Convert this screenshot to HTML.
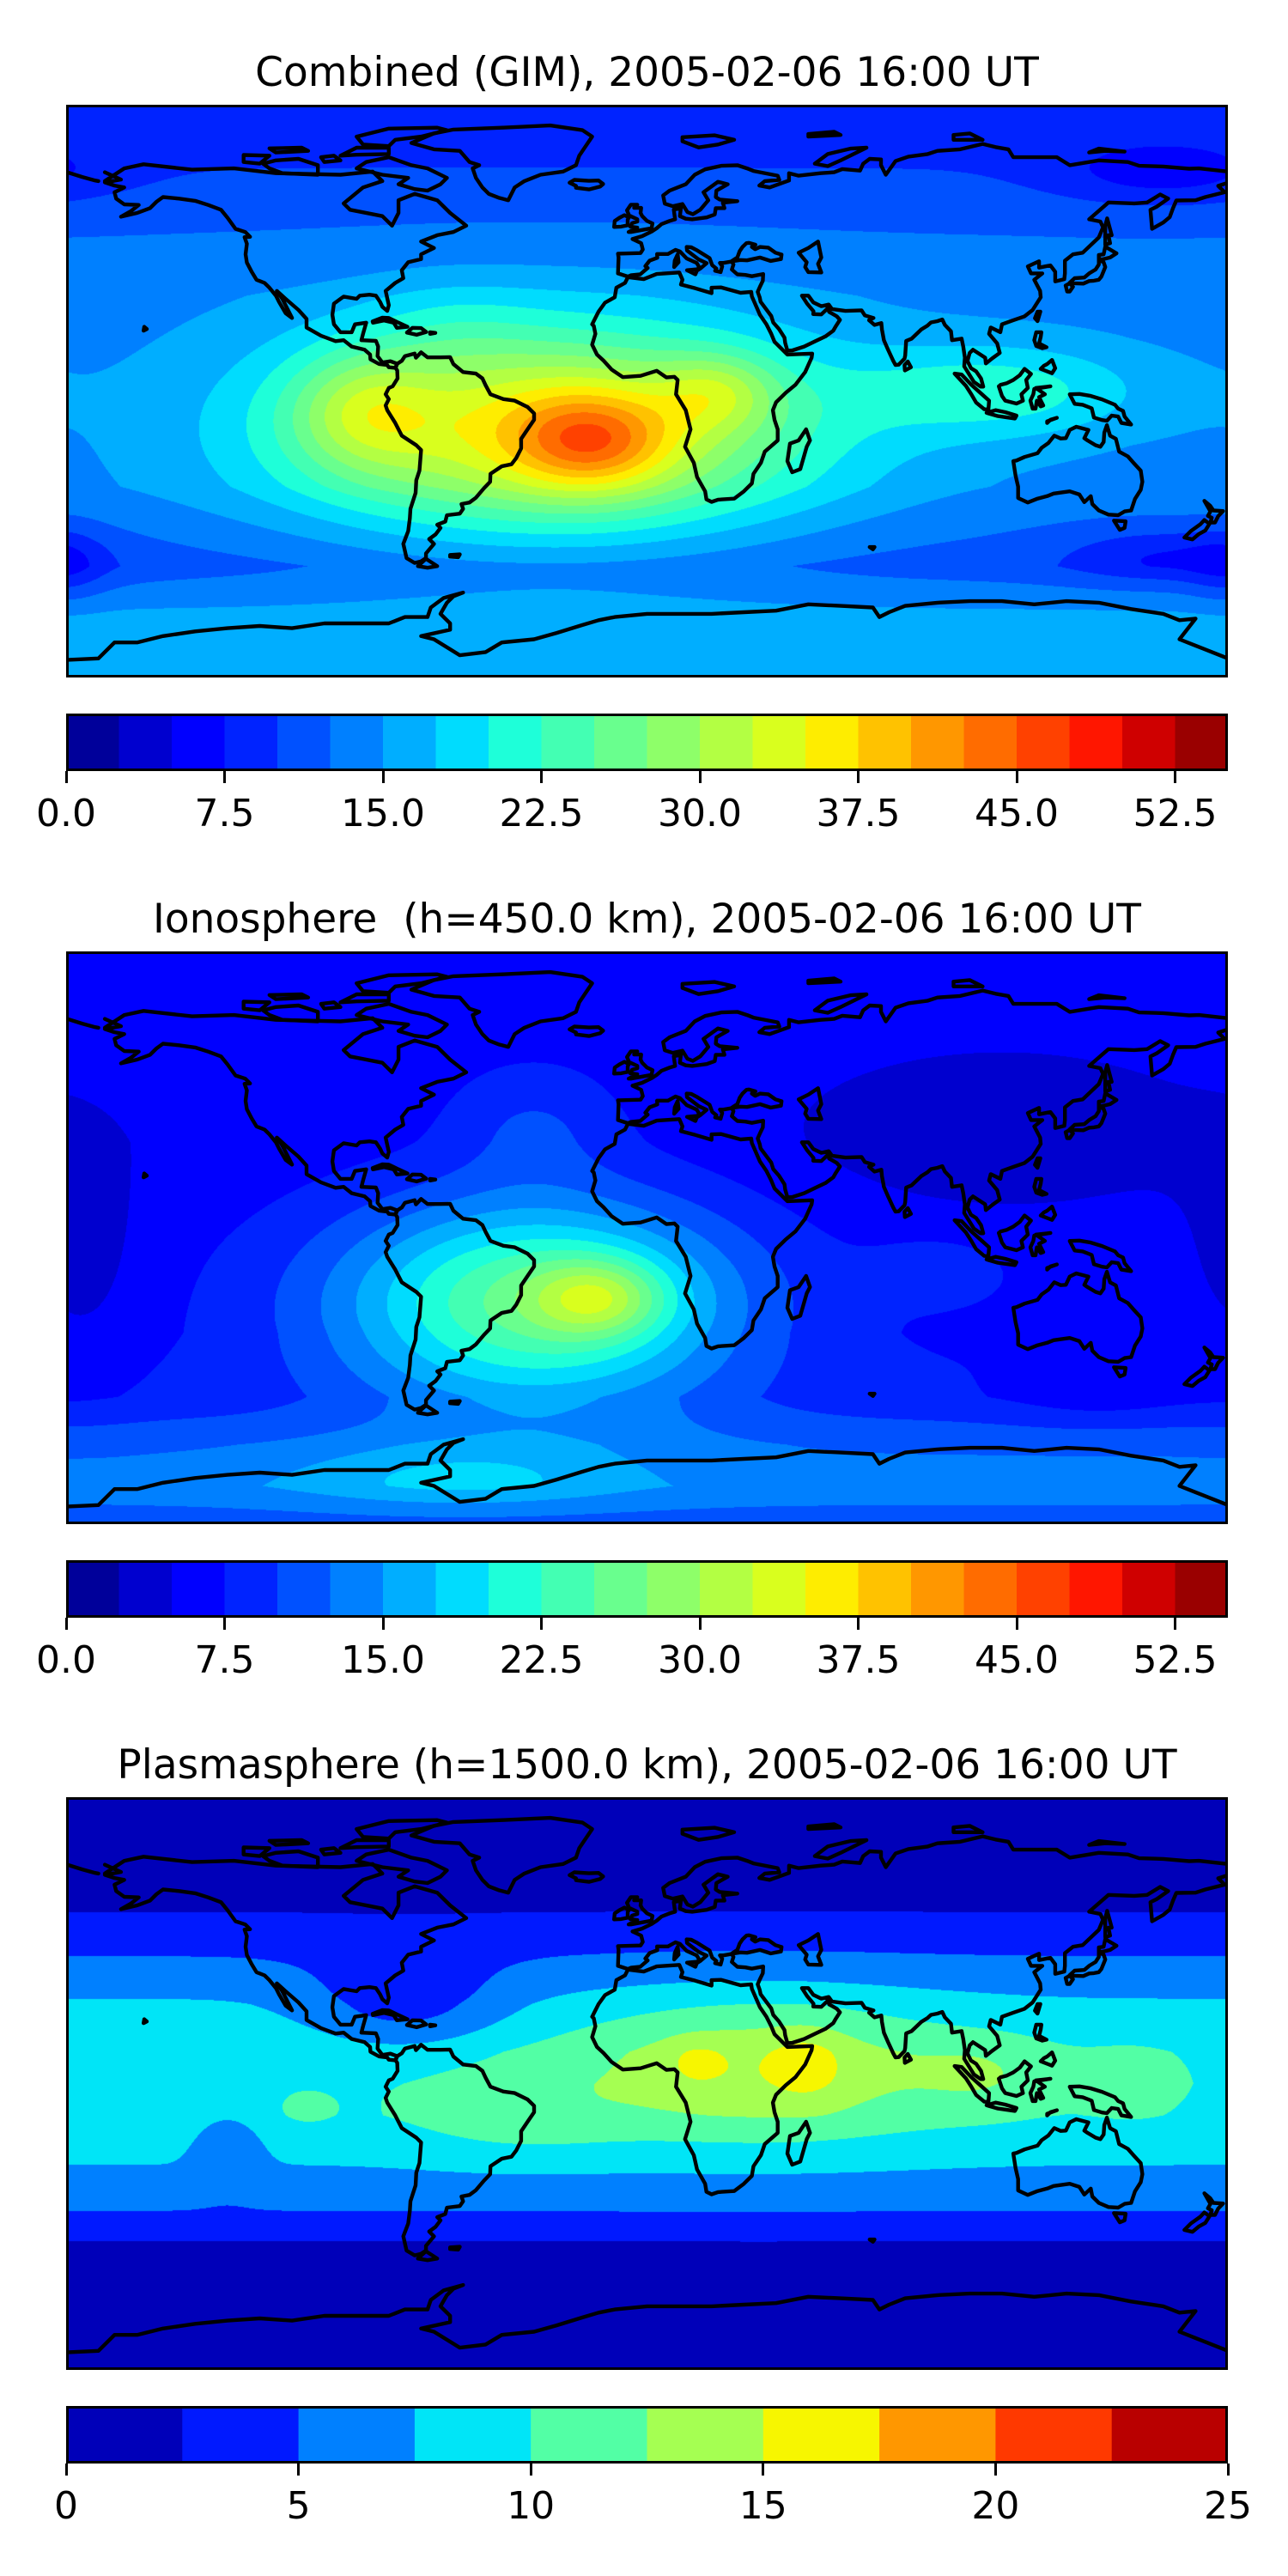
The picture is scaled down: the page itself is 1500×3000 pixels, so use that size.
<!DOCTYPE html>
<html><head><meta charset="utf-8">
<style>
html,body{margin:0;padding:0;background:#fff;}
body{width:1500px;height:3000px;position:relative;overflow:hidden;font-family:"DejaVu Sans","Liberation Sans",sans-serif;}
.title{position:absolute;left:0;width:1507px;text-align:center;font-size:47px;color:#000;line-height:1;white-space:nowrap;}
.map{position:absolute;left:77px;width:1353px;height:667px;}
.map canvas,.map svg{position:absolute;left:0;top:0;}
.cb{position:absolute;left:77px;width:1353px;height:67px;}
.tick{position:absolute;width:3px;height:14px;background:#000;}
.tl{position:absolute;font-size:44px;line-height:1;transform:translateX(-50%);white-space:nowrap;}
</style></head>
<body>
<div class="title" style="top:61px">Combined (GIM), 2005-02-06 16:00 UT</div>
<div class="map" id="m0" style="top:122px"></div>
<div class="cb" id="c0" style="top:831px"></div>

<div class="title" style="top:1047px">Ionosphere&nbsp; (h=450.0 km), 2005-02-06 16:00 UT</div>
<div class="map" id="m1" style="top:1108px"></div>
<div class="cb" id="c1" style="top:1817px"></div>

<div class="title" style="top:2032px">Plasmasphere (h=1500.0 km), 2005-02-06 16:00 UT</div>
<div class="map" id="m2" style="top:2093px"></div>
<div class="cb" id="c2" style="top:2802px"></div>

<script>
// ---- data: level settings ----
const levelMax0 = 55, levelStep0 = 2.5;
const levelMax2 = 25, levelStep2 = 2.5;
const ticks0 = [0, 7.5, 15, 22.5, 30, 37.5, 45, 52.5];
const tickLabels0 = ["0.0","7.5","15.0","22.5","30.0","37.5","45.0","52.5"];
const ticks2 = [0, 5, 10, 15, 20, 25];
const tickLabels2 = ["0","5","10","15","20","25"];

// ---- data: combined field (TEC units) ----
const combBaseLat = [90, 70, 55, 30, 0, -30, -55, -72, -90];
const combBaseVal = [8, 10, 12, 14, 14, 14, 11, 16, 15];
const combBlobLon = [-30, -17, 22, -88, 110, 160, 160, -180, -60];
const combBlobLat = [-12, -16, 0, -6, 0, 68, -52, -55, 20];
const combBlobAmp = [22, 11, 7, 8, 7, -4, -4, -3, 2];
const combBlobSLon = [80, 24, 18, 22, 45, 35, 30, 12, 25];
const combBlobSLat = [32, 15, 12, 18, 15, 10, 9, 12, 15];

// ---- data: ionosphere field ----
const ionoBaseLat = [90, 60, 30, 0, -30, -50, -65, -78, -90];
const ionoBaseVal = [7, 6.5, 6, 6.5, 7, 8, 12, 14, 11];
const ionoBlobLon = [-35, -15, -35, 110, -175, -60, 90, 140];
const ionoBlobLat = [-20, -19, 35, 35, -5, -75, -10, -50];
const ionoBlobAmp = [19, 10, 3.5, -3.5, -2.5, 4, 2.5, -2];
const ionoBlobSLon = [60, 20, 25, 60, 20, 50, 20, 30];
const ionoBlobSLat = [32, 12, 18, 25, 40, 10, 10, 10];

// ---- data: plasmasphere field ----
const plasBaseLat = [90, 70, 55, 40, 25, 10, 0, -10, -25, -40, -50, -65, -90];
const plasBaseVal = [0, 0.5, 2.3, 5, 7.8, 9.6, 9.7, 9.5, 7.6, 5, 2.4, 1, 0];
const plasBlobLon = [35, 105, 15, 50, -40, -105, -130, -75, 150];
const plasBlobLat = [5, 3, 7, 6, -10, -8, -20, 25, 0];
const plasBlobAmp = [5, 2.2, 1.8, 2.3, 2, 1.3, -3, -4, 1.5];
const plasBlobSLon = [55, 22, 9, 11, 35, 8, 10, 30, 15];
const plasBlobSLat = [22, 12, 7, 11, 15, 5, 12, 15, 12];

// ---- coastlines (lon,lat) ----
const coasts = [
[[-168,66],[-162,70],[-156,71.3],[-141,69.6],[-128,70],[-115,68.5],[-95,68],[-85,69],[-82,66],[-88,64],[-94,59],[-92,57],[-82,55],[-79,52],[-77,56],[-77,60],[-72,62],[-65,60],[-61,56],[-56,52],[-60,50],[-65,49],[-70,47],[-66,45],[-70,43],[-70,41.5],[-74,40.5],[-76,38],[-75.5,35.5],[-78,34],[-81,31.5],[-80,27],[-80.5,25.2],[-82,26.5],[-82.7,28],[-84,30],[-86,30.3],[-89,30],[-90,29],[-94,29.7],[-97,27.5],[-97.5,24],[-97,21],[-95,18.5],[-91.5,18.5],[-90.5,21],[-87,21.5],[-88,18],[-88.5,16],[-84,15.8],[-83.3,14],[-83.5,11],[-82,9],[-79.5,9.4],[-77.4,8.6],[-78,7.3],[-80,7.5],[-80.5,8.2],[-83,8.5],[-85.7,10],[-85.8,11.5],[-87.5,13],[-91.5,14],[-94,16],[-96.5,15.7],[-101,17.4],[-105.5,20],[-105.5,22.7],[-108,25.5],[-112,29],[-114.7,31.5],[-113,29],[-110,23],[-112,24.5],[-114,28],[-115,30],[-117,32.5],[-118.5,34],[-121,35],[-122.5,37.5],[-124,40.4],[-124.4,43],[-124,46.3],[-124.7,48.4],[-123,48.5],[-124.5,50],[-127.5,51],[-130,54.5],[-132,57],[-136,58.5],[-140,59.8],[-145,60.5],[-150,61],[-152,59.5],[-154,57.5],[-158,56],[-163,54.8],[-160,56.5],[-157.5,58.5],[-162,58.7],[-164.5,60.5],[-165,62.5],[-162,64],[-165,64.6],[-168,65.6],[-163,66.5],[-168,68.8]],
[[-73,78],[-66,81],[-60,82.2],[-45,82.8],[-30,83.5],[-20,82],[-17,80],[-19,77],[-21,74],[-22,71],[-26,69],[-33,68],[-38,66],[-41,64],[-43,60],[-46,60.8],[-49,62],[-51,64],[-53,67],[-54,70],[-52,71],[-55,72],[-58,75.5],[-66,76],[-73,78]],
[[-62,67],[-64,65],[-68,63],[-72,63.5],[-77,65],[-74,67],[-82,68],[-90,70],[-87,72],[-80,73.5],[-73,71],[-68,70],[-62,67]],
[[-117,70],[-113,68.5],[-102,68],[-102,71],[-108,73],[-115,72.5],[-119,71.5],[-117,70]],
[[-80,77],[-88,77.5],[-90,80],[-80,82.5],[-65,82.8],[-62,82],[-70,80],[-78,79],[-80,77]],
[[-95,74],[-90,76.5],[-80,76.5],[-80,74.5],[-90,74.3],[-95,74]],
[[-125,72],[-120,71.5],[-117,74],[-125,74.2],[-125,72]],
[[-100,72],[-95,72.5],[-97,74],[-101,73.5],[-100,72]],
[[-115,75],[-105,75.5],[-107,76.5],[-117,76.3],[-115,75]],
[[-77.4,8.6],[-76,9.5],[-75,11],[-72,11.8],[-71.6,10.5],[-70,12.2],[-68,10.6],[-64,10.6],[-61,10.7],[-60,8.5],[-57,6],[-53,5.5],[-51,4],[-50,1.8],[-48.5,-1],[-44.5,-2.5],[-41,-3],[-37,-5],[-35,-7],[-35,-9],[-37,-12],[-39,-15],[-39,-18],[-40.5,-21],[-42,-23],[-45,-23.6],[-48.5,-26],[-48.6,-28.5],[-50.5,-30.5],[-53,-33.5],[-55,-35],[-57.5,-35.5],[-57,-37],[-58,-38.5],[-62,-39],[-62.5,-41],[-65,-42],[-64,-43],[-65.5,-45],[-67.5,-46.5],[-66,-48],[-68.5,-51],[-68.5,-52.5],[-70,-53.5],[-72,-54],[-74.5,-52.5],[-75.5,-48],[-74,-44],[-73.5,-40],[-73.3,-37],[-71.7,-32],[-71.5,-28],[-70.5,-25],[-70,-18.5],[-71.5,-17],[-76,-14],[-78,-10],[-80.5,-6],[-81,-4.5],[-80,-2.5],[-81,-1],[-80,1],[-78.8,1.5],[-77.3,4],[-77.4,6.5],[-77.9,7.3],[-77.4,8.6]],
[[-68.5,-52.7],[-65,-55],[-68,-55.5],[-71,-55],[-68.5,-52.7]],
[[-5.9,35.8],[-1,35.2],[3,36.8],[10,37.3],[11,35],[10.5,33.5],[15,32.3],[20,30.8],[20,32.5],[23,32.6],[29,30.9],[32.3,31.2],[32.5,29.8],[35,24],[37,21],[38.5,18],[39.5,15.5],[42.5,12.5],[43.5,11.5],[51.2,11.8],[51,10.5],[49,6],[46,2],[43,-0.5],[40,-3.5],[39,-6],[39.5,-9],[40.5,-12],[40.5,-15.5],[36.5,-19],[35.3,-22.5],[33,-26],[32.5,-29],[30,-31.5],[27,-33.8],[22,-34.1],[20,-34.8],[18.4,-34],[18,-31.5],[15.5,-27],[14.5,-22.5],[11.8,-17.5],[13.5,-12],[12,-6],[9,-1],[9.5,3.5],[8.5,4.5],[6,4.3],[3,6.4],[-2,4.8],[-7.5,4.4],[-11,6.8],[-13.5,9.6],[-15.5,11.5],[-17,14.6],[-16,18],[-16.5,20.5],[-17,21],[-15,25],[-13,27.8],[-10,29.5],[-9.5,32.5],[-6.8,34],[-5.9,35.8]],
[[49.3,-12],[50.5,-15.5],[49.5,-17.5],[47.5,-24.5],[45,-25.5],[43.5,-22],[44.3,-16.5],[47,-15.5],[49.3,-12]],
[[-5.9,36],[-9,37],[-8.8,42],[-9,43.2],[-2,43.4],[-1.3,44.5],[-1.8,46.5],[-4.5,47.8],[-1.5,48.7],[1.5,50.2],[3,51.2],[4.5,52.5],[7,53.5],[8.7,54],[8.3,57],[10.5,57.6],[10.2,55],[12,54.2],[14,54],[18.5,54.6],[21,55.5],[21.3,57.5],[24,57.5],[23.5,59.2],[28,59.7],[22.5,60.2],[21.3,61],[21.5,63],[25,65],[22,65.8],[17.5,62.5],[19,60],[16.5,57],[14.2,55.6],[12.5,56.3],[11,58.8],[8,58.1],[5.5,58.9],[5,61.5],[7,63],[12,65],[14.8,68],[18,69.7],[23,70.8],[28,71],[31,70],[33,69.2],[40.5,67.7],[41,66.4],[36.5,66],[34.8,64.6],[38,64],[44,66.2],[44,68.5],[47,67.7],[53.8,68.5],[58,68.8],[60.5,69.8],[66,69.3],[67,71.5],[69,73],[72.5,72.8],[72.5,71],[74,68],[77,72.3],[81,73.7],[87,74.5],[90,75.5],[97,76],[104,77.7],[108,76.7],[112,76],[113.5,73.5],[118,73.5],[127,73.5],[131,71],[140,72.5],[149,72],[152.5,70.8],[160,70.6],[168,69.9],[171,70],[180,69]],
[[-180,68.9],[-175,67.3],[-171,66.2],[-170,66]],
[[180,65.5],[177,64.5],[179,62.5],[173,61],[170,60],[164,59.9],[163,57.5],[162,54.7],[160,53],[156.5,51],[156,57],[158,58],[161.5,60.5],[159,61.8],[155,59.3],[151,59],[143,59.3],[137,54],[140.5,53.3],[141.3,51.5],[140,48.3],[135,43.5],[132,43],[129.5,41],[129.5,37],[129.3,35.2],[126.5,34.5],[126.5,37.5],[125,39.5],[121.5,38.8],[121.5,40.8],[118,39.2],[119,37],[122.5,37],[120,35],[121.8,31.5],[122,29.5],[119.5,25.5],[117,23.5],[113.5,22.3],[110,21],[109.5,18.5],[106.5,20],[106,18],[108.5,15],[109.3,12],[107,10.3],[105,8.7],[104.8,10.5],[101,13],[100,12],[99.3,9.5],[100.4,7.2],[102,6.2],[103.5,4],[104.2,1.4],[103.4,1.4],[101.3,2.9],[98.3,7.8],[98.5,10.5],[98,14],[97.5,16.5],[94.5,16],[94.2,18.8],[92.3,20.8],[91.5,22.5],[90,22],[88,21.6],[86.9,20.6],[85,19.4],[82,16.5],[80.3,15.8],[80,11.2],[79.8,10.2],[78,8.3],[77,8.2],[76.3,9.5],[74.8,12.8],[73.4,16],[72.8,19.4],[72.6,21.4],[70.5,20.8],[68.8,22.3],[70.2,23],[67.5,23.8],[66.5,25.4],[61.5,25.2],[57.3,25.8],[56.3,27.2],[54,26.7],[51.5,27.9],[50,30],[48,30],[49.6,27.5],[51.6,25.1],[51.5,24.2],[54,24.1],[56.2,26.2],[56.4,24.9],[58.8,23.5],[59.8,22.4],[58.5,20.4],[57.7,19],[55.3,17.2],[52.2,15.7],[48.7,14],[45,12.8],[43.5,12.7],[42.8,15.2],[42.6,16.8],[40.9,19.5],[39.1,21.6],[38.5,23.6],[37.5,25],[35.2,28.1],[34.9,29.5],[34.3,31.2],[35,32.8],[35.9,34.7],[36,36.8],[32.5,36.1],[30.5,36.5],[28,36.7],[26.3,38.2],[26.8,39.8],[26.2,40.8],[28.9,41.2],[31,41.1],[35,42],[38.3,40.9],[41.5,41.5],[41.7,42.9],[39.8,43.5],[37.6,45.1],[35,45.3],[33.5,44.6],[32.5,45.3],[33.6,46],[31.6,46.6],[30.8,46.5],[29.6,45.3],[28.7,44],[28,42],[26,40.7],[23.7,40.3],[22.6,40.3],[23.3,39.2],[22.8,37.4],[21.1,37.8],[21.5,38.5],[20.2,39.6],[19.4,41.8],[15.6,44.2],[13.7,45.2],[12.3,45.3],[12.4,44.2],[16,41.4],[18.5,40.2],[16.5,38.5],[15.7,38],[16.1,39.1],[15.4,40.3],[12.3,41.7],[10.2,43.9],[8.8,44.4],[6.5,43.1],[3.1,43.1],[3.2,41.9],[0.8,41],[-0.5,39.3],[0.2,38.7],[-2.1,36.7],[-5,36.4],[-5.9,36]],
[[50,45],[53,47],[54,42],[53,40],[54,37.3],[50,37.4],[49,39],[49.5,40.5],[47,43.5],[50,45]],
[[-5,50],[1.4,51.2],[1.7,52.7],[0,53.5],[-1.5,55],[-2,56],[-1.8,57.6],[-4,57.6],[-3,58.6],[-5,58.6],[-6.2,56.8],[-5.6,55.3],[-4.7,54.8],[-3,54],[-3,53.3],[-4.6,52.8],[-5.2,51.7],[-3,51.4],[-5.7,50],[-5,50]],
[[-6,52.1],[-6,53.9],[-5.6,54.6],[-7,55.3],[-8.5,54.5],[-10,53.5],[-10.2,51.6],[-8,51.7],[-6,52.1]],
[[-22,63.9],[-18,63.4],[-14.5,64.3],[-13.6,65.1],[-15,66.2],[-18,66.1],[-22.5,66.4],[-24,65.5],[-22,64.5],[-22,63.9]],
[[11,78.5],[16,76.6],[22,77.5],[27,79],[21,80.4],[11,79.8],[11,78.5]],
[[52,71.5],[56,70.7],[60,72.5],[68,76.5],[63,76.2],[56,74.5],[52,71.5]],
[[95,79],[104,79],[100,81],[95,80.5],[95,79]],
[[50,80],[60,80.5],[58,81.5],[50,80.8],[50,80]],
[[137,75],[142,75.5],[148,75.3],[140,76.2],[137,75]],
[[79.9,6.5],[81.8,7.5],[80.8,9.3],[79.8,8.2],[79.9,6.5]],
[[130.9,34],[132.5,35.5],[135.5,35.7],[137,37],[139,38.2],[140,39.8],[140,41.2],[141.5,40.5],[142,39],[140.8,36],[140,35],[138.5,34.7],[137,34.6],[135.2,33.8],[132.3,33.9],[130.9,34]],
[[129.7,33.2],[131,33.9],[132,32.8],[131,31.3],[130.2,31.3],[129.7,33.2]],
[[140,41.5],[141,41.4],[143.5,42],[145.5,43.3],[142,45.4],[141.5,43],[140,42.8],[140,41.5]],
[[142,46],[143.5,46.5],[143,49],[144,49],[142.6,54.3],[142,52],[142,46]],
[[120.2,22.9],[121,22],[121.9,25],[121,25],[120.2,22.9]],
[[120,16],[120.6,18.5],[122.2,18.5],[122,17],[121.5,15],[123.8,13.8],[122.5,13.5],[120.6,14.2],[120,16]],
[[122,7],[125.5,5.6],[126.5,7.2],[125.5,9.8],[124,8.5],[123,8],[122,7]],
[[109,1.5],[110,-1.5],[111,-3],[114.5,-3.9],[116.5,-3],[116,-1],[118,1],[117.5,3.5],[119,5.4],[117,7],[115.5,5],[113.5,3.5],[111.5,2.5],[109.6,2],[109,1.5]],
[[95.3,5.5],[97.5,5.2],[100.5,2],[103.8,-1],[106,-3],[105.8,-5.8],[104.5,-5.7],[102,-3.6],[100.5,-1],[98.8,1.7],[95.3,5.5]],
[[105.2,-6.8],[108,-6],[111,-6.6],[114.5,-7.7],[114,-8.6],[108.5,-7.8],[105.5,-6.9],[105.2,-6.8]],
[[119.5,-5.5],[120.4,-5.5],[120.8,-3],[122,-4.8],[122.8,-4.5],[121.5,-1.9],[123.3,-1],[120.5,1],[125,1.5],[120,0.7],[119.7,-1],[118.8,-3],[119.5,-5.5]],
[[131,-1],[134,-0.9],[137.5,-1.5],[141,-2.6],[145,-4.3],[146,-5.5],[147.5,-6.2],[148,-8],[150,-10.5],[147,-10],[146,-8],[144,-7.7],[142.5,-9.3],[141,-9.1],[138.5,-8.3],[137.8,-5.4],[135,-4.3],[132.5,-4],[131,-1]],
[[124,-9.5],[127,-8.4],[125,-9],[124,-10],[124,-9.5]],
[[113.5,-22],[114.2,-26.5],[115,-30],[115,-33.6],[118,-35],[121,-33.8],[124,-33],[126,-32.2],[131,-31.5],[134,-32.5],[135.5,-34.9],[137.5,-33],[138,-35.5],[140,-37.5],[143,-38.8],[146,-39],[148,-37.8],[150,-37.5],[151.2,-33.9],[153,-31],[153.5,-28.5],[153,-25],[150.8,-22.6],[149,-20.5],[146.3,-19],[145.3,-15],[143.5,-14],[142.5,-10.7],[141.7,-13],[141.5,-16],[140.5,-17.5],[139,-17],[136.5,-15.5],[135.5,-14.8],[136.8,-12.2],[133,-11.2],[131,-12.2],[129.8,-14.8],[128.2,-14.9],[126.2,-14],[124.4,-16.3],[122.3,-17.8],[121,-19.5],[117,-20.7],[114.5,-21.8],[113.5,-22]],
[[144.7,-40.7],[148.3,-40.9],[148,-43],[146.5,-43.6],[144.7,-40.7]],
[[172.7,-34.5],[174.5,-36],[175.5,-37.5],[178.5,-37.7],[177,-39.3],[176,-41.3],[174.6,-41.3],[175,-39.8],[173.8,-39.2],[174.6,-37.8],[172.7,-34.5]],
[[172.7,-40.5],[174.3,-41.7],[173,-43.8],[171,-44.9],[169,-46.6],[166.5,-46],[168.5,-44],[171.5,-41.8],[172.7,-40.5]],
[[-85,21.9],[-82,23.1],[-80,23],[-77,21.5],[-74.2,20.2],[-77.5,19.9],[-78.5,21.5],[-81.5,22.2],[-84.9,21.5],[-85,21.9]],
[[-74.4,18.4],[-72.7,19.9],[-70,19.8],[-68.4,18.6],[-71.4,17.7],[-74.4,18.4]],
[[-67.2,18],[-65.6,18.3],[-67.2,18.5],[-67.2,18]],
[[-156,19],[-155,19.5],[-155.8,20.2],[-156,19]],
[[12.4,38],[15.6,38.3],[15,36.7],[12.4,38]],
[[8.4,39],[9.8,40.5],[9.5,43],[8.6,41],[8.4,39]],
[[-61,-51.5],[-58,-51.3],[-58.5,-52.2],[-61,-52],[-61,-51.5]],
[[69,-49],[70.5,-49],[70,-49.7],[69,-49]],
[[-180,-84.5],[-170,-84],[-165,-79],[-158,-79],[-150,-77],[-140,-75.5],[-130,-74.5],[-120,-73.8],[-110,-74.5],[-100,-73],[-90,-73],[-80,-73],[-75,-71],[-68,-71],[-67,-68],[-63,-65],[-57,-63.3],[-60,-64.5],[-62,-66.5],[-64,-70],[-61,-73],[-61,-75],[-70,-77],[-66,-78],[-58,-83],[-50,-82],[-45,-79],[-35,-78],[-28,-76],[-20,-73.5],[-15,-72],[-10,-71],[0,-70],[10,-70],[20,-70],[30,-69.5],[40,-69],[50,-67],[60,-67.5],[70,-68],[72,-71],[75,-69.5],[80,-67.5],[90,-66.5],[100,-66],[110,-66],[120,-67],[130,-66],[140,-66.5],[150,-68.5],[160,-70],[165,-72],[170,-71.5],[165,-78],[170,-80],[180,-84]]
];

const W = 1353, H = 667;

function jet(t){
  function seg(pts){ if(t<=pts[0][0]) return pts[0][1];
    for(let i=1;i<pts.length;i++){ if(t<=pts[i][0]){const a=pts[i-1],b=pts[i];return a[1]+(b[1]-a[1])*(t-a[0])/(b[0]-a[0]);} }
    return pts[pts.length-1][1]; }
  const r=seg([[0,0],[0.35,0],[0.66,1],[0.89,1],[1,0.5]]);
  const g=seg([[0,0],[0.125,0],[0.375,1],[0.64,1],[0.91,0],[1,0]]);
  const b=seg([[0,0.5],[0.11,1],[0.34,1],[0.65,0],[1,0]]);
  return [Math.round(r*255),Math.round(g*255),Math.round(b*255)];
}
function binColors(n){ const c=[]; for(let i=0;i<n;i++) c.push(jet((i+0.5)/n)); return c; }
function interp(xs, ys, x){
  if(x>=xs[0]) return ys[0];
  for(let i=1;i<xs.length;i++){ if(x>=xs[i]){ return ys[i-1]+(ys[i]-ys[i-1])*(x-xs[i-1])/(xs[i]-xs[i-1]); } }
  return ys[ys.length-1];
}
const xScale = lon => (lon+180)/360*W;
const yScale = lat => (90-lat)/180*H;

function drawField(id, name, baseLat, baseVal, bLon, bLat, bAmp, bSLon, bSLat, vmax, step){
  const host=document.getElementById(id);
  const cv=document.createElement('canvas');
  
  
  cv.width=W; cv.height=H; host.appendChild(cv);
  const ctx=cv.getContext('2d'); const img=ctx.createImageData(W,H); const d=img.data;
  const n=Math.round(vmax/step); const cols=binColors(n);
  const rowBase=new Float32Array(H);
  const rowF=[], colF=[];
  for(let k=0;k<bLon.length;k++){ rowF.push(new Float32Array(H)); colF.push(new Float32Array(W)); }
  for(let y=0;y<H;y++){ const lat=90-(y+0.5)/H*180; rowBase[y]=interp(baseLat,baseVal,lat);
    for(let k=0;k<bLon.length;k++){ const dl=(lat-bLat[k])/bSLat[k]; rowF[k][y]=bAmp[k]*Math.exp(-dl*dl);} }
  for(let x=0;x<W;x++){ const lon=(x+0.5)/W*360-180;
    for(let k=0;k<bLon.length;k++){ let dd=lon-bLon[k]; dd=((dd+540)%360)-180; const q=dd/bSLon[k]; colF[k][x]=Math.exp(-q*q);} }
  for(let y=0;y<H;y++){ for(let x=0;x<W;x++){ let v=rowBase[y];
      for(let k=0;k<bLon.length;k++) v+=rowF[k][y]*colF[k][x];
      let b=Math.floor(v/step); if(b<0)b=0; if(b>n-1)b=n-1; const c=cols[b]; const i=(y*W+x)*4;
      d[i]=c[0]; d[i+1]=c[1]; d[i+2]=c[2]; d[i+3]=255; } }
  ctx.putImageData(img,0,0);
  const NS='http://www.w3.org/2000/svg';
  const svg=document.createElementNS(NS,'svg'); svg.setAttribute('width',W); svg.setAttribute('height',H);
  
  
  coasts.forEach(c=>{ const p=document.createElementNS(NS,'polyline');
    p.setAttribute('points', c.map(q=>xScale(q[0]).toFixed(1)+','+yScale(q[1]).toFixed(1)).join(' '));
    p.setAttribute('fill','none'); p.setAttribute('stroke','#000'); p.setAttribute('stroke-width','4.4'); p.setAttribute('stroke-linejoin','round'); p.setAttribute('stroke-linecap','round');
    
    
    svg.appendChild(p); });
  const r=document.createElementNS(NS,'rect'); r.setAttribute('x',1.5); r.setAttribute('y',1.5); r.setAttribute('width',W-3); r.setAttribute('height',H-3);
  r.setAttribute('fill','none'); r.setAttribute('stroke','#000'); r.setAttribute('stroke-width','3');
  
  
  svg.appendChild(r);
  host.appendChild(svg);
}

function drawBar(id, name, vmax, step, ticks, labels){
  const host=document.getElementById(id);
  const n=Math.round(vmax/step); const cols=binColors(n);
  const NS='http://www.w3.org/2000/svg';
  const svg=document.createElementNS(NS,'svg'); svg.setAttribute('width',W); svg.setAttribute('height',67);
  svg.style.position='absolute'; svg.style.left='0'; svg.style.top='0';
  for(let i=0;i<n;i++){ const r=document.createElementNS(NS,'rect');
    const x0=i*step/vmax*W, x1=(i+1)*step/vmax*W;
    r.setAttribute('x',x0); r.setAttribute('y',0); r.setAttribute('width',x1-x0+0.6); r.setAttribute('height',67);
    r.setAttribute('fill','rgb('+cols[i].join(',')+')');
    
    
    svg.appendChild(r); }
  const f=document.createElementNS(NS,'rect'); f.setAttribute('x',1.5); f.setAttribute('y',1.5); f.setAttribute('width',W-3); f.setAttribute('height',64);
  f.setAttribute('fill','none'); f.setAttribute('stroke','#000'); f.setAttribute('stroke-width','3');
  svg.appendChild(f); host.appendChild(svg);
  ticks.forEach((t,i)=>{ const x=t/vmax*W;
    const tk=document.createElement('div'); tk.className='tick'; tk.style.left=(x-1.5)+'px'; tk.style.top='67px';
    
    
    host.appendChild(tk);
    const tl=document.createElement('div'); tl.className='tl'; tl.style.left=x+'px'; tl.style.top='95px'; tl.textContent=labels[i];
    
    
    host.appendChild(tl); });
}

drawField('m0','combined',combBaseLat,combBaseVal,combBlobLon,combBlobLat,combBlobAmp,combBlobSLon,combBlobSLat,levelMax0,levelStep0);
drawField('m1','ionosphere',ionoBaseLat,ionoBaseVal,ionoBlobLon,ionoBlobLat,ionoBlobAmp,ionoBlobSLon,ionoBlobSLat,levelMax0,levelStep0);
drawField('m2','plasmasphere',plasBaseLat,plasBaseVal,plasBlobLon,plasBlobLat,plasBlobAmp,plasBlobSLon,plasBlobSLat,levelMax2,levelStep2);
drawBar('c0','combined-colorbar',levelMax0,levelStep0,ticks0,tickLabels0);
drawBar('c1','ionosphere-colorbar',levelMax0,levelStep0,ticks0,tickLabels0);
drawBar('c2','plasmasphere-colorbar',levelMax2,levelStep2,ticks2,tickLabels2);
</script>
</body></html>
